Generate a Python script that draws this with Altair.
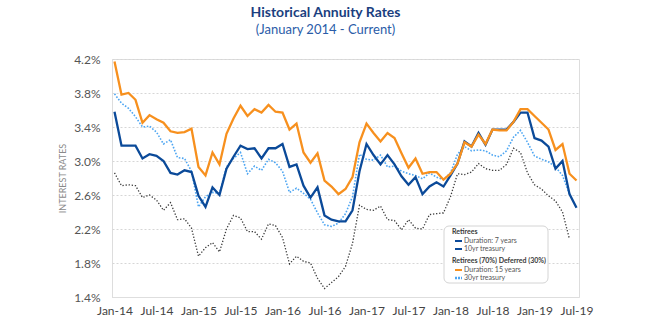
import altair as alt
import pandas as pd

# ---------------- data ----------------
month_names = ["Jan", "Feb", "Mar", "Apr", "May", "Jun",
               "Jul", "Aug", "Sep", "Oct", "Nov", "Dec"]
years = ["14", "15", "16", "17", "18", "19"]
months = [f"{m}-{y}" for y in years for m in month_names][:67]   # Jan-14 .. Jul-19

tick_labels = ["Jan-14", "Jul-14", "Jan-15", "Jul-15", "Jan-16", "Jul-16",
               "Jan-17", "Jul-17", "Jan-18", "Jul-18", "Jan-19", "Jul-19"]
y_ticks = [0.014, 0.018, 0.022, 0.026, 0.030, 0.034, 0.038, 0.042]

# Retirees (70%) Deferred (30%) - Duration: 15 years (orange)
dur15 = [4.17, 3.78, 3.80, 3.72, 3.45, 3.54, 3.49, 3.45, 3.35, 3.33, 3.34, 3.38,
         2.93, 2.83, 3.10, 2.96, 3.32, 3.50, 3.65, 3.53, 3.61, 3.57, 3.66, 3.58,
         3.57, 3.37, 3.44, 3.10, 2.98, 3.09, 2.77, 2.70, 2.61, 2.67, 2.81, 3.22,
         3.44, 3.33, 3.23, 3.33, 3.27, 3.09, 2.92, 3.03, 2.85, 2.87, 2.87, 2.78,
         2.85, 2.97, 3.22, 3.17, 3.31, 3.20, 3.37, 3.36, 3.36, 3.46, 3.61, 3.61,
         3.53, 3.45, 3.37, 3.13, 3.20, 2.85, 2.77]

# Retirees - Duration: 7 years (dark blue)
dur7 = [3.58, 3.18, 3.18, 3.18, 3.03, 3.08, 3.06, 3.00, 2.86, 2.84, 2.89, 2.87,
        2.59, 2.46, 2.69, 2.60, 2.91, 3.05, 3.18, 3.14, 3.15, 3.03, 3.15, 3.15,
        3.20, 2.93, 2.96, 2.71, 2.57, 2.69, 2.36, 2.31, 2.29, 2.29, 2.42, 2.88,
        3.20, 3.07, 2.96, 3.07, 2.96, 2.82, 2.72, 2.81, 2.61, 2.70, 2.75, 2.70,
        2.83, 2.97, 3.23, 3.17, 3.33, 3.19, 3.37, 3.37, 3.37, 3.46, 3.57, 3.57,
        3.27, 3.24, 3.17, 2.91, 3.00, 2.61, 2.45]

# 30yr treasury (light blue dotted)
t30 = [3.79, 3.68, 3.62, 3.52, 3.40, 3.41, 3.34, 3.20, 3.25, 3.04, 3.03, 2.88,
       2.46, 2.58, 2.63, 2.62, 2.93, 3.03, 3.10, 2.85, 2.94, 2.89, 3.02, 2.98,
       2.88, 2.63, 2.68, 2.62, 2.55, 2.39, 2.25, 2.23, 2.27, 2.38, 2.58, 3.08,
       3.02, 3.01, 3.07, 2.93, 2.94, 2.88, 2.85, 2.83, 2.79, 2.86, 2.81, 2.78,
       2.86, 3.08, 3.17, 3.12, 3.13, 3.12, 3.07, 3.05, 3.12, 3.28, 3.36, 3.22,
       3.06, 3.02, 2.99, 2.93, 2.83, 2.61]

# 10yr treasury (dark grey dotted)
t10 = [2.86, 2.71, 2.72, 2.71, 2.57, 2.60, 2.54, 2.42, 2.51, 2.31, 2.32, 2.21,
       1.88, 1.98, 2.04, 1.93, 2.20, 2.36, 2.33, 2.17, 2.17, 2.08, 2.26, 2.24,
       2.10, 1.79, 1.88, 1.82, 1.80, 1.62, 1.50, 1.57, 1.64, 1.76, 2.03, 2.48,
       2.43, 2.42, 2.47, 2.31, 2.30, 2.19, 2.31, 2.21, 2.20, 2.37, 2.38, 2.39,
       2.58, 2.85, 2.84, 2.87, 2.97, 2.91, 2.89, 2.89, 2.96, 3.15, 3.10, 2.86,
       2.72, 2.67, 2.59, 2.53, 2.40, 2.08]

series = [("t10", t10), ("t30", t30), ("dur7", dur7), ("dur15", dur15)]
rows = []
for name, vals in series:
    for mo, v in zip(months, vals):
        rows.append({"month": mo, "series": name, "rate": v / 100.0})
df = pd.DataFrame(rows)

FONT = "Lato"

x_enc = alt.X(
    "month:O", sort=months,
    scale=alt.Scale(type="point", padding=0.357),
    axis=alt.Axis(values=tick_labels, labelAngle=0, title=None, ticks=False,
                  domainColor="#dedede", domainWidth=1, labelFont=FONT,
                  labelFontSize=12, labelColor="#444444", labelPadding=8,
                  labelOverlap=False, labelFlush=False, grid=False),
)
y_enc = alt.Y(
    "rate:Q",
    scale=alt.Scale(domain=[0.014, 0.042], nice=False, zero=False),
    axis=alt.Axis(values=y_ticks, format=".1%", title="INTEREST RATES",
                  titleFont=FONT, titleFontSize=9, titleFontWeight="normal",
                  titleColor="#8a8a8a", titlePadding=6, labelFont=FONT,
                  labelFontSize=12, labelColor="#555555", labelPadding=12,
                  ticks=False, domain=False, grid=True, gridDash=[2, 2],
                  gridColor="#d6d6d6"),
)

base = alt.Chart(df).encode(x=x_enc, y=y_enc)

l_t10 = base.transform_filter(alt.datum.series == "t10").mark_line(
    color="#3a3a3a", strokeWidth=1.3, strokeDash=[1.3, 1.8])
l_t30 = base.transform_filter(alt.datum.series == "t30").mark_line(
    color="#4ea6f2", strokeWidth=1.6, strokeDash=[1.6, 1.6])
l_d7 = base.transform_filter(alt.datum.series == "dur7").mark_line(
    color="#0b4a99", strokeWidth=2.3)
l_d15 = base.transform_filter(alt.datum.series == "dur15").mark_line(
    color="#f7901e", strokeWidth=2.3)

# ---------------- legend (drawn box) ----------------
one = pd.DataFrame({"k": [0]})
leg_box = alt.Chart(one).mark_rect(
    fill="white", stroke="#d4d4d4", strokeWidth=1, cornerRadius=5
).encode(x=alt.value(332), x2=alt.value(436), y=alt.value(167), y2=alt.value(224))


def leg_text(txt, xp, yp, bold=False):
    return alt.Chart(one).mark_text(
        text=txt, align="left", baseline="middle", font=FONT, fontSize=7,
        fontWeight="bold" if bold else "normal",
        color="#3a3a3a" if bold else "#555555",
    ).encode(x=alt.value(xp), y=alt.value(yp))


def leg_sym(color, yp, width=2, dash=None):
    kw = dict(color=color, strokeWidth=width)
    if dash:
        kw["strokeDash"] = dash
    return alt.Chart(one).mark_rule(**kw).encode(
        x=alt.value(343), x2=alt.value(350), y=alt.value(yp))


legend_layers = [
    leg_box,
    leg_text("Retirees", 340, 173, bold=True),
    leg_sym("#0b4a99", 182), leg_text("Duration: 7 years", 352, 182),
    leg_sym("#0b4a99", 190), leg_text("10yr treasury", 352, 190),
    leg_text("Retirees (70%) Deferred (30%)", 340, 202, bold=True),
    leg_sym("#f7901e", 211), leg_text("Duration: 15 years", 352, 211),
    leg_sym("#4ea6f2", 219, width=2.5, dash=[2, 1]), leg_text("30yr treasury", 352, 219),
]

chart = alt.layer(l_t10, l_t30, l_d7, l_d15, *legend_layers).properties(
    width=467, height=238,
    title=alt.TitleParams(
        text="Historical Annuity Rates",
        subtitle="(January 2014 - Current)",
        anchor="middle", frame="group", dx=-20,
        font=FONT, fontSize=14, fontWeight="bold", color="#1b3f80",
        subtitleFont=FONT, subtitleFontSize=13, subtitleColor="#2a5ca8",
        subtitlePadding=4, offset=16,
    ),
    padding={"left": 112, "top": 59, "right": 71, "bottom": 28},
    autosize=alt.AutoSizeParams(type="none"),
).configure_view(stroke=None).configure(background="white")

chart.save("out.html", embed_options={"renderer": "svg", "actions": False})
